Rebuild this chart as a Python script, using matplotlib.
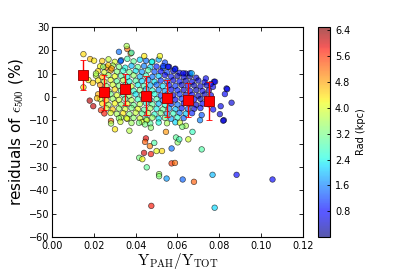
#!/usr/bin/env python3
"""
Residuals of e500 against the PAH mass fraction, coloured by galactocentric radius.
Binned means (red squares) with their scatter as error bars.
"""

import matplotlib
matplotlib.use("Agg")
import matplotlib.pyplot as plt
import numpy as np

# ---------------------------------------------------------------------------
# Data
# ---------------------------------------------------------------------------

# dense core of the cloud, row by row
x_core = [
    0.024, 0.027, 0.030, 0.033, 0.036, 0.039, 0.042, 0.045, 0.048, 0.051, 0.054,
    0.023, 0.026, 0.029, 0.032, 0.035, 0.038, 0.041, 0.044, 0.047, 0.050, 0.053, 0.056, 0.059,
    0.022, 0.025, 0.028, 0.031, 0.034, 0.037, 0.040, 0.043, 0.046, 0.049, 0.052, 0.055, 0.058, 0.061, 0.064,
    0.021, 0.024, 0.027, 0.030, 0.033, 0.036, 0.039, 0.042, 0.045, 0.048, 0.051, 0.054, 0.057, 0.060, 0.063, 0.066, 0.069,
    0.022, 0.025, 0.028, 0.031, 0.034, 0.037, 0.040, 0.043, 0.046, 0.049, 0.052, 0.055, 0.058, 0.061, 0.064, 0.067, 0.070, 0.073,
    0.023, 0.026, 0.029, 0.032, 0.035, 0.038, 0.041, 0.044, 0.047, 0.050, 0.053, 0.056, 0.059, 0.062, 0.065, 0.068, 0.071, 0.074, 0.077,
    0.024, 0.027, 0.030, 0.033, 0.036, 0.039, 0.042, 0.045, 0.048, 0.051, 0.054, 0.057, 0.060, 0.063, 0.066, 0.069, 0.072, 0.075,
    0.022, 0.025, 0.028, 0.031, 0.034, 0.037, 0.040, 0.043, 0.046, 0.049, 0.052, 0.055, 0.058, 0.061, 0.064, 0.067, 0.070, 0.073, 0.076,
    0.023, 0.026, 0.029, 0.032, 0.035, 0.038, 0.041, 0.044, 0.047, 0.050, 0.053, 0.056, 0.059, 0.062, 0.065, 0.068, 0.071, 0.074,
    0.024, 0.027, 0.030, 0.033, 0.036, 0.039, 0.042, 0.045, 0.048, 0.051, 0.054, 0.057, 0.060, 0.063, 0.066, 0.069, 0.072, 0.075,
    0.026, 0.029, 0.032, 0.035, 0.038, 0.041, 0.044, 0.047, 0.050, 0.053, 0.056, 0.059, 0.062, 0.065, 0.068, 0.071,
    0.028, 0.031, 0.034, 0.037, 0.040, 0.043, 0.046, 0.049, 0.052, 0.055, 0.058, 0.061, 0.064, 0.067,
    0.033, 0.036, 0.039, 0.042, 0.045, 0.048, 0.051, 0.054, 0.057, 0.060, 0.063,
    0.038, 0.043, 0.047, 0.051, 0.055, 0.059,
]
y_core = [
    15.5, 16.2, 15.1, 15.8, 16.4, 15.3, 16.0, 15.6, 15.2, 16.1, 14.8,
    13.2, 12.7, 13.5, 13.0, 12.6, 13.4, 12.9, 13.3, 12.8, 13.1, 12.5, 13.0, 12.2,
    11.1, 10.6, 11.4, 10.9, 11.3, 10.7, 11.2, 10.8, 11.5, 10.9, 11.0, 10.6, 11.2, 10.4, 10.1,
    9.2, 8.7, 9.4, 8.9, 9.1, 8.6, 9.3, 8.8, 9.2, 8.7, 9.0, 9.4, 8.8, 9.1, 8.6, 8.9, 8.3,
    7.1, 6.6, 7.3, 6.8, 7.2, 6.7, 7.0, 6.9, 7.4, 6.6, 7.1, 6.8, 7.2, 6.7, 7.0, 6.5, 7.1, 6.4,
    5.2, 4.7, 5.3, 4.9, 5.1, 4.6, 5.2, 4.8, 5.0, 5.3, 4.7, 5.1, 4.8, 5.2, 4.9, 5.0, 4.6, 5.1, 4.4,
    3.1, 2.6, 3.3, 2.8, 3.2, 2.7, 3.0, 3.4, 2.8, 3.1, 2.6, 3.2, 2.9, 3.1, 2.7, 3.0, 2.6, 2.9,
    1.2, 0.7, 1.3, 0.8, 1.1, 0.6, 1.2, 0.9, 1.0, 1.3, 0.7, 1.1, 0.8, 1.2, 0.9, 1.0, 0.6, 1.1, 0.8,
    -0.9, -1.4, -0.7, -1.2, -0.8, -1.3, -1.0, -0.6, -1.2, -0.9, -1.4, -0.8, -1.1, -0.7, -1.3, -1.0, -0.8, -1.2,
    -2.8, -3.3, -2.7, -3.2, -2.9, -3.4, -3.0, -2.6, -3.1, -2.8, -3.3, -2.9, -3.2, -2.7, -3.0, -3.3, -2.8, -3.1,
    -4.8, -5.3, -4.9, -5.2, -4.7, -5.1, -5.4, -4.8, -5.0, -5.3, -4.9, -5.2, -4.8, -5.1, -5.0, -4.7,
    -6.8, -7.2, -6.9, -7.3, -6.7, -7.1, -6.9, -7.4, -6.8, -7.2, -7.0, -6.8, -7.1, -6.9,
    -8.8, -9.3, -8.9, -9.1, -9.4, -8.8, -9.2, -8.9, -9.3, -8.7, -9.0,
    -11.1, -10.7, -11.3, -10.9, -11.2, -10.8,
]
rad_core = [
    4.5, 3.8, 4.0, 1.8, 2.8, 3.0, 2.2, 1.5, 2.4, 1.9, 1.2,
    4.2, 5.0, 3.6, 3.2, 2.4, 2.0, 3.0, 1.6, 2.2, 1.0, 1.4, 0.5, 0.7,
    4.4, 3.9, 4.8, 3.3, 2.6, 3.1, 2.3, 1.8, 2.9, 1.3, 0.8, 1.2, 0.4, 0.7, 0.3,
    3.8, 4.6, 3.5, 4.1, 2.9, 2.4, 3.4, 2.0, 2.7, 1.5, 2.1, 0.6, 0.9, 0.3, 0.6, 0.3, 0.5,
    4.3, 3.7, 4.0, 3.0, 3.6, 2.5, 2.9, 2.2, 1.7, 2.3, 1.1, 1.4, 0.5, 0.9, 0.3, 0.6, 0.4, 0.7,
    4.9, 3.4, 3.9, 3.3, 2.7, 3.8, 2.4, 2.8, 2.0, 1.4, 2.2, 0.7, 1.1, 0.4, 0.8, 0.3, 0.5, 0.4, 0.6,
    4.2, 3.6, 4.4, 3.1, 3.5, 2.6, 3.2, 2.1, 2.6, 1.6, 1.9, 0.6, 1.0, 0.4, 0.7, 0.3, 0.6, 0.3,
    4.7, 3.8, 3.2, 4.0, 2.8, 3.4, 2.3, 3.0, 1.9, 2.5, 1.3, 1.6, 0.5, 1.1, 0.4, 0.8, 0.4, 0.3, 0.6,
    4.0, 4.5, 3.5, 3.9, 3.0, 3.6, 2.7, 3.3, 2.2, 2.8, 1.5, 1.8, 0.6, 1.2, 0.4, 0.8, 0.3, 0.5,
    4.4, 3.7, 4.2, 3.4, 4.0, 3.1, 3.7, 2.5, 3.0, 2.0, 2.6, 1.1, 1.5, 0.6, 1.0, 0.4, 0.7, 0.5,
    3.9, 4.6, 3.5, 3.9, 3.2, 4.1, 2.9, 3.5, 2.4, 3.0, 1.8, 2.0, 0.9, 1.4, 0.5, 0.9,
    4.0, 3.6, 4.3, 3.3, 3.8, 3.0, 3.6, 2.6, 3.2, 2.0, 2.7, 1.5, 2.1, 1.0,
    3.7, 4.2, 3.4, 3.9, 2.8, 3.5, 2.3, 3.1, 1.9, 2.6, 1.4,
    3.5, 4.0, 3.0, 2.5, 3.6, 2.2,
]

# fringe and outliers
x_out = [
    0.0150, 0.0182, 0.0201, 0.0174, 0.0195, 0.0150, 0.0210, 0.0245, 0.0269, 0.0285,
    0.0320, 0.0360, 0.0328, 0.0376, 0.0357, 0.0380, 0.0441, 0.0516, 0.0477, 0.0532,
    0.0555, 0.0588, 0.0628, 0.0660, 0.0668, 0.0736, 0.0775, 0.0835, 0.0780, 0.0759,
    0.0838, 0.0827, 0.0859, 0.0807, 0.0771, 0.0803, 0.0822, 0.0708, 0.0716, 0.0819,
    0.0197, 0.0234, 0.0250, 0.0282, 0.0282, 0.0301, 0.0320, 0.0327, 0.0370, 0.0416,
    0.0453, 0.0449, 0.0445, 0.0468, 0.0440, 0.0473, 0.0489, 0.0500, 0.0526, 0.0417,
    0.0432, 0.0453, 0.0512, 0.0512, 0.0475, 0.0548, 0.0572, 0.0572, 0.0588, 0.0545,
    0.0593, 0.0601, 0.0609, 0.0652, 0.0672, 0.0625, 0.0679, 0.0612, 0.0640, 0.0716,
    0.0768, 0.0883, 0.1055, 0.0778, 0.0357, 0.0445, 0.0473, 0.0623, 0.0180, 0.0215,
]
y_out = [
    18.4, 16.3, 15.6, 7.3, 6.1, 4.2, 10.1, 13.0, 13.7, 12.3,
    19.4, 20.6, 15.4, 18.7, 21.9, 19.0, 17.6, 17.6, 15.1, 13.3,
    13.0, 11.9, 10.2, 10.2, 10.2, 8.0, 6.6, 3.7, 6.6, 5.6,
    3.4, 1.3, -2.4, -3.9, -5.3, -7.3, -9.9, -9.9, -7.7, -10.1,
    -3.9, -5.6, -7.0, -10.2, -11.3, -13.8, -9.1, -10.6, -14.4, -11.0,
    -9.9, -17.7, -19.2, -21.0, -23.9, -24.4, -19.6, -23.1, -23.1, -26.0,
    -26.6, -30.1, -33.0, -33.9, -46.6, -34.9, -22.0, -28.4, -28.2, -14.9,
    -17.3, -19.4, -18.1, -18.1, -14.9, -35.3, -36.3, -11.0, -12.3, -22.4,
    -33.3, -33.3, -35.3, -47.4, -9.1, -11.7, -13.1, -12.7, -1.5, -0.5,
]
rad_out = [
    4.4, 4.6, 4.3, 4.2, 4.5, 4.3, 3.6, 3.4, 4.5, 4.9,
    1.5, 5.2, 1.3, 5.0, 3.6, 2.7, 4.3, 4.2, 2.4, 1.1,
    0.9, 1.0, 0.8, 0.7, 2.0, 0.6, 0.5, 0.7, 0.6, 0.8,
    0.6, 0.7, 0.5, 0.6, 0.8, 0.5, 0.6, 1.6, 1.3, 0.5,
    6.1, 5.6, 5.8, 5.3, 3.6, 4.3, 3.4, 3.9, 3.7, 3.2,
    4.0, 5.9, 5.3, 5.1, 6.0, 5.8, 2.9, 4.1, 4.4, 3.2,
    4.2, 3.0, 3.5, 3.3, 5.8, 1.8, 1.5, 5.6, 5.2, 4.9,
    3.0, 3.4, 2.8, 3.9, 2.7, 1.4, 5.3, 3.9, 3.6, 2.9,
    2.0, 0.8, 0.8, 2.2, 3.9, 3.2, 3.4, 3.3, 6.2, 4.6,
]

# binned means and their scatter
x_bin   = [0.015, 0.025, 0.035, 0.045, 0.055, 0.065, 0.075]
y_bin   = [9.5, 2.0, 3.3, 0.6, -0.5, -1.3, -1.6]
err_bin = [6.5, 7.6, 6.7, 8.3, 7.9, 7.2, 8.2]

# ---------------------------------------------------------------------------
# Figure
# ---------------------------------------------------------------------------

plt.rcParams["mathtext.fontset"] = "cm"

x_all   = np.array(x_core + x_out)
y_all   = np.array(y_core + y_out)
rad_all = np.array(rad_core + rad_out)

fig = plt.figure(figsize=(4.07, 2.71), dpi=100)
ax  = fig.add_axes([0.128, 0.125, 0.616, 0.775])
cax = fig.add_axes([0.781, 0.125, 0.030, 0.775])

sc = ax.scatter(x_all, y_all, c=rad_all, cmap="jet", vmin=0.0, vmax=6.5,
                s=16, alpha=0.65, edgecolors="k", linewidths=0.5, zorder=2)

ax.errorbar(x_bin, y_bin, yerr=err_bin, fmt="s", color="red", ms=7,
            mec="darkred", mew=0.6, ecolor="red", elinewidth=1.0,
            capsize=2.5, capthick=1.0, zorder=4)

ax.set_xlim(0, 0.12)
ax.set_ylim(-60, 30)
ax.set_xticks(np.arange(0, 0.121, 0.02))
ax.set_yticks(np.arange(-60, 31, 10))
ax.tick_params(direction="in", top=True, right=True, labelsize=7,
               length=3, width=0.6, pad=2)
ax.tick_params(axis="x", pad=3)
for sp in ax.spines.values():
    sp.set_linewidth(0.8)

ax.set_xlabel(r"$\mathrm{Y_{PAH}/Y_{TOT}}$", fontsize=11, labelpad=0)
ax.set_ylabel(r"residuals of $\epsilon_{500}$ (%)", fontsize=11, labelpad=2)

cb = fig.colorbar(sc, cax=cax, ticks=[0.8, 1.6, 2.4, 3.2, 4.0, 4.8, 5.6, 6.4])
cb.ax.tick_params(labelsize=7, length=2, width=0.6, direction="in")
cb.set_label("Rad (kpc)", fontsize=7)

fig.savefig("out.png", dpi=100)
print("Saved out.png")
